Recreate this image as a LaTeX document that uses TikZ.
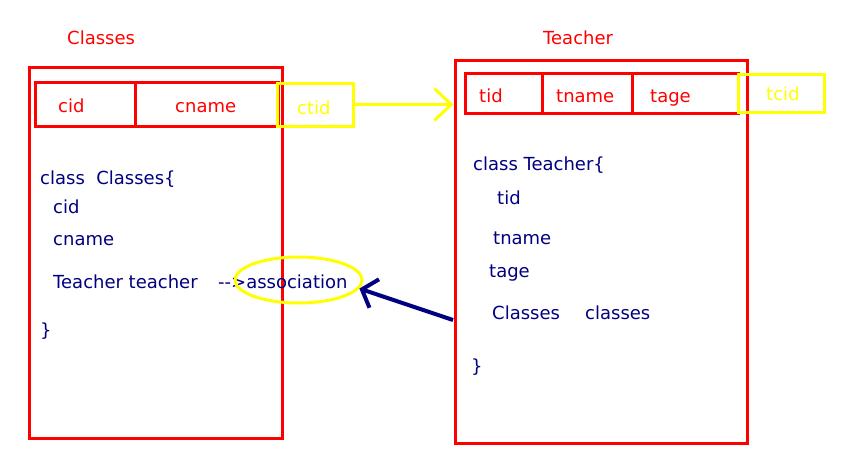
\documentclass[tikz,border=0pt]{standalone}
\usepackage{fontspec}
\setmainfont{DejaVu Sans}
\usetikzlibrary{arrows.meta,shapes.geometric}
\definecolor{pred}{RGB}{255,0,0}
\definecolor{pyel}{RGB}{255,255,0}
\definecolor{pnavy}{RGB}{0,0,128}
\begin{document}
\begin{tikzpicture}[x=1pt,y=-1pt,
  redbox/.style={draw=pred, line width=3pt, inner sep=0pt, rectangle},
  yelbox/.style={draw=pyel, line width=3pt, inner sep=0pt, rectangle},
  txt/.style={anchor=base west, inner sep=0pt, font=\fontsize{18}{21}\selectfont},
  redtxt/.style={txt, text=pred},
  yeltxt/.style={txt, text=pyel},
  code/.style={txt, text=pnavy}]
\useasboundingbox (0,0) rectangle (865,463);
\fill[white] (0,0) rectangle (865,463);

% titles
\node[redtxt] (t1) at (67,44) {Classes};
\node[redtxt] (t2) at (543,44) {Teacher};

% left class box
\node[redbox, minimum width=253pt, minimum height=371pt] (clsbox) at (155.5,252.5) {};
\node[redbox, minimum width=100pt, minimum height=44pt] (cidcell) at (85,104) {};
\node[redbox, minimum width=143pt, minimum height=44pt] (cnamecell) at (206.5,104) {};
\node[yelbox, minimum width=76pt, minimum height=43pt] (ctidcell) at (315,104.5) {};
\node[redtxt] (l1) at (58,112) {cid};
\node[redtxt] (l2) at (175,112) {cname};
\node[yeltxt] (l3) at (297,114) {ctid};

% right class box
\node[redbox, minimum width=292pt, minimum height=383pt] (tchbox) at (601,251.5) {};
\node[redbox, minimum width=77pt, minimum height=40pt] (tidcell) at (503.5,93) {};
\node[redbox, minimum width=90pt, minimum height=40pt] (tnamecell) at (587,93) {};
\node[redbox, minimum width=106pt, minimum height=40pt] (tagecell) at (685,93) {};
\node[yelbox, minimum width=86pt, minimum height=38pt] (tcidcell) at (781,93) {};
\node[redtxt] (r1) at (479,102) {tid};
\node[redtxt] (r2) at (556,102) {tname};
\node[redtxt] (r3) at (650,102) {tage};
\node[yeltxt] (r4) at (766,100) {tcid};

% left code
\node[code] (c1) at (40,184) {class\ \ Classes\{};
\node[code] (c2) at (53,213) {cid};
\node[code] (c3) at (53,245) {cname};
\node[code] (c4) at (53,288) {Teacher teacher};
\node[code] (c5) at (218,288) {-{}->association};
\node[code] (c6) at (40,336) {\}};

% right code
\node[code] (d1) at (473,170) {class Teacher\{};
\node[code] (d2) at (497,204) {tid};
\node[code] (d3) at (493,244) {tname};
\node[code] (d4) at (489,277) {tage};
\node[code] (d5) at (492,319) {Classes};
\node[code] (d6) at (585,319) {classes};
\node[code] (d7) at (471,372) {\}};

% association ellipse
\node[draw=pyel, line width=3pt, ellipse, inner sep=0pt,
      minimum width=127pt, minimum height=46pt] (assoc) at (298.5,280) {};

% yellow arrow
\draw[pyel, line width=3pt, -{Straight Barb[length=17pt,width=32pt]}]
  (ctidcell.east) -- (ctidcell.east -| tchbox.west);

% navy arrow
\coordinate (navystart) at (453,320);
\draw[pnavy, line width=4pt, -{Straight Barb[length=13pt,width=30pt]}]
  (navystart) -- (assoc.-8);
\end{tikzpicture}
\end{document}
